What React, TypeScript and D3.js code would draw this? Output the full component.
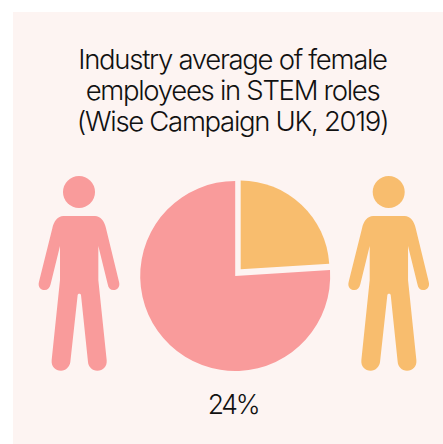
import React from "react";
import * as d3 from "d3";

// Share of STEM roles held by women, in percent
const femaleShare = [24];
const otherShare = [76];
const titleLines = [
  "Industry average of female",
  "employees in STEM roles",
  "(Wise Campaign UK, 2019)",
];
const shareLabels = ["24%"];

const PINK = "#f99b9b";
const ORANGE = "#f8bd6e";
const BG = "#fdf4f2";
const INK = "#111111";
const FONT = "Inter, sans-serif";

// Standing figure, origin at the centre of the shoulders' axis, in thirds of a pixel
const BODY =
  "M-47,168 L48,168 C64,168 77,184 81,205 L120,365 C124,380 116,390 103,390 C94,390 88,384 86,372 L58,258 L58,360 L83,600 C85,620 72,632 55,632 C39,632 28,620 27,606 L6,405 C5,400 -3,400 -4,405 L-26,606 C-28,620 -39,632 -54,632 C-71,632 -84,620 -82,600 L-57,360 L-57,258 L-85,372 C-88,384 -94,390 -103,390 C-116,390 -124,380 -120,365 L-80,205 C-76,184 -63,168 -47,168 Z";

function Person({ cx, fill }: { cx: number; fill: string }) {
  return (
    <g transform={`translate(${cx},160)`} fill={fill}>
      <circle cx={0} cy={32} r={16} />
      <path d={BODY} transform="scale(0.3333)" />
    </g>
  );
}

export default function App() {
  // The smaller wedge has its own centre and radius, leaving a gap to the large one
  const slices = d3
    .pie<number>()
    .sort(null)
    .value((d) => d)([femaleShare[0], otherShare[0]]);
  const largeArc = d3.arc<d3.PieArcDatum<number>>().innerRadius(0).outerRadius(95);
  const smallArc = d3.arc<d3.PieArcDatum<number>>().innerRadius(0).outerRadius(88.7);

  return (
    <svg
      width={443}
      height={444}
      style={{ position: "absolute", left: 0, top: 0, display: "block" }}
    >
      <rect x={13} y={12} width={430} height={432} fill={BG} />
      <text
        textAnchor="middle"
        fontFamily={FONT}
        fontWeight={300}
        fontSize={27.5}
        letterSpacing={-1.3}
        fill={INK}
      >
        {titleLines.map((line, i) => (
          <tspan key={line} x={232.5} y={68.5 + i * 31.3}>
            {line}
          </tspan>
        ))}
      </text>
      <Person cx={79} fill={PINK} />
      <Person cx={388.7} fill={ORANGE} />
      <path d={largeArc(slices[1]) ?? ""} transform="translate(235.2,276)" fill={PINK} />
      <path d={smallArc(slices[0]) ?? ""} transform="translate(240.7,269.3)" fill={ORANGE} />
      <text
        x={233}
        y={414}
        textAnchor="middle"
        fontFamily={FONT}
        fontWeight={300}
        fontSize={26.5}
        letterSpacing={-2.2}
        fill={INK}
      >
        {shareLabels[0]}
      </text>
    </svg>
  );
}
